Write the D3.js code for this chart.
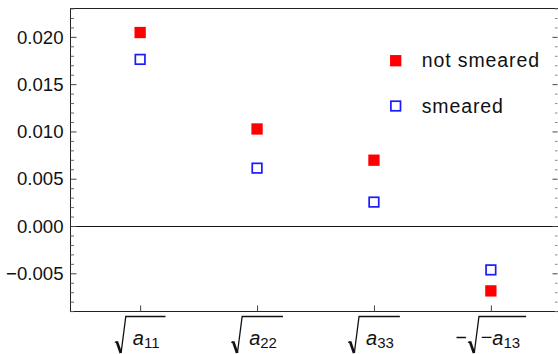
<!DOCTYPE html>
<html lang="en">
<head>
<meta charset="UTF-8">
<script src="https://d3js.org/d3.v7.min.js"></script>
<title>smeared vs not smeared</title>
<style>
  body { margin: 0; background: #fff; }
  text { font-family: "Liberation Sans", Arial, sans-serif; }
</style>
</head>
<body>
<svg id="chart" width="558" height="354"></svg>
<script>
// data
const categories = [1, 2, 3, 4];
const labelSubs = ["11", "22", "33", "13"];
const labelNeg = [false, false, false, true];
const notSmeared = [0.02046, 0.01026, 0.00696, -0.00686];
const smeared = [0.01762, 0.00612, 0.00253, -0.00464];
const seriesNames = ["not smeared", "smeared"];
const majorTicks = [-0.005, 0.000, 0.005, 0.010, 0.015, 0.020];

const svg = d3.select("svg#chart");
const frame = {left: 70.5, right: 558.5, top: 8.5, bottom: 311.5};

const x = d3.scaleLinear().domain([0.4, 4.57]).range([70, 557.5]);
const y = d3.scaleLinear().domain([-0.00904, 0.0230]).range([frame.bottom, frame.top]);

const minorTicks = d3.range(-9, 24).map(d => d / 1000).filter(d => Math.abs(Math.round(d * 200) - d * 200) > 1e-6);

// frame
svg.append("rect")
  .attr("x", frame.left).attr("y", frame.top)
  .attr("width", frame.right - frame.left).attr("height", frame.bottom - frame.top)
  .attr("fill", "none").attr("stroke", "#222").attr("stroke-width", 1);

// zero line
svg.append("line")
  .attr("x1", frame.left).attr("x2", frame.right)
  .attr("y1", Math.round(y(0)) + 0.5).attr("y2", Math.round(y(0)) + 0.5)
  .attr("stroke", "#111").attr("stroke-width", 1.2);

// left axis (ticks inside)
const leftAxis = d3.axisRight(y).tickValues(majorTicks).tickSize(6).tickFormat("");
const gl = svg.append("g").attr("transform", "translate(" + frame.left + ",0)").call(leftAxis);
gl.select(".domain").remove();
gl.selectAll(".tick line").attr("stroke", "#444");
const leftMinor = d3.axisRight(y).tickValues(minorTicks).tickSize(3.5).tickFormat("");
const glm = svg.append("g").attr("transform", "translate(" + frame.left + ",0)").call(leftMinor);
glm.select(".domain").remove();
glm.selectAll(".tick line").attr("stroke", "#666");

// tick labels
svg.append("g").selectAll("text").data(majorTicks).join("text")
  .attr("x", 63.5).attr("y", d => y(d))
  .attr("dy", "0.36em")
  .attr("text-anchor", "end")
  .attr("font-size", 18.6)
  .attr("fill", "#111")
  .text(d => d3.format(".3f")(d));

// right axis (ticks inside)
const rightAxis = d3.axisLeft(y).tickValues(majorTicks).tickSize(5).tickFormat("");
const gr = svg.append("g").attr("transform", "translate(" + (frame.right - 1) + ",0)").call(rightAxis);
gr.select(".domain").remove();
gr.selectAll(".tick line").attr("stroke", "#444");
const rightMinor = d3.axisLeft(y).tickValues(minorTicks).tickSize(2.5).tickFormat("");
const grm = svg.append("g").attr("transform", "translate(" + (frame.right - 1) + ",0)").call(rightMinor);
grm.select(".domain").remove();
grm.selectAll(".tick line").attr("stroke", "#888");

// bottom ticks
const bottomAxis = d3.axisTop(x).tickValues(categories).tickSize(6).tickFormat("");
const gb = svg.append("g").attr("transform", "translate(0," + frame.bottom + ")").call(bottomAxis);
gb.select(".domain").remove();
gb.selectAll(".tick line").attr("stroke", "#444");

// category labels: sqrt(a_ij), with radical sign
categories.forEach((c, i) => {
  const g = svg.append("g");
  const base = 345;
  let cx = 0;
  if (labelNeg[i]) {
    const m = g.append("text").attr("x", cx).attr("y", base - 1).attr("font-size", 19.5).attr("fill", "#111").text("\u2212");
    cx += m.node().getComputedTextLength() + 1;
  }
  const rx = cx;
  const topY = 316.5;
  const inner = g.append("text").attr("y", base).attr("font-size", 20).attr("fill", "#111");
  if (labelNeg[i]) inner.append("tspan").attr("dy", -1).text("\u2212");
  inner.append("tspan").attr("font-style", "italic").attr("dy", labelNeg[i] ? 1 : 0).text("a");
  inner.append("tspan").attr("font-size", 15).attr("dy", 3).text(labelSubs[i]);
  const innerX = rx + (labelNeg[i] ? 12.7 : 18);
  inner.attr("x", innerX);
  const w = inner.node().getComputedTextLength();
  const endX = innerX + w + 6;
  // radical
  g.append("path")
    .attr("d", "M" + rx + "," + (base - 2.5) + "L" + (rx + 2) + "," + (base - 3.5))
    .attr("stroke", "#111").attr("stroke-width", 1.2).attr("fill", "none");
  g.append("path")
    .attr("d", "M" + (rx + 2) + "," + (base - 3.5) + "L" + (rx + 6) + "," + (base + 8))
    .attr("stroke", "#111").attr("stroke-width", 2.6).attr("fill", "none");
  g.append("path")
    .attr("d", "M" + (rx + 6.3) + "," + (base + 8) + "L" + (rx + 11) + "," + topY + "L" + endX + "," + topY)
    .attr("stroke", "#111").attr("stroke-width", 1.3).attr("fill", "none");
  const total = endX;
  g.attr("transform", "translate(" + (x(c) - total / 2) + ",0)");
});

// markers
const size = 11.3;
svg.append("g").selectAll("rect").data(categories).join("rect")
  .attr("x", (d, i) => x(d) - size / 2)
  .attr("y", (d, i) => y(notSmeared[i]) - size / 2)
  .attr("width", size).attr("height", size)
  .attr("fill", "#ff0000");

const sw = 1.7;
svg.append("g").selectAll("rect").data(categories).join("rect")
  .attr("x", (d, i) => x(d) - size / 2 + sw / 2)
  .attr("y", (d, i) => y(smeared[i]) - size / 2 + sw / 2)
  .attr("width", size - sw).attr("height", size - sw)
  .attr("fill", "none")
  .attr("stroke", "#1a1aff").attr("stroke-width", sw);

// legend
const legend = svg.append("g");
const legY = [60.7, 106];
legend.append("rect")
  .attr("x", 395.7 - size / 2).attr("y", legY[0] - size / 2)
  .attr("width", size).attr("height", size).attr("fill", "#ff0000");
legend.append("rect")
  .attr("x", 395.7 - size / 2 + sw / 2).attr("y", legY[1] - size / 2 + sw / 2)
  .attr("width", size - sw).attr("height", size - sw)
  .attr("fill", "none").attr("stroke", "#1a1aff").attr("stroke-width", sw);
legend.selectAll("text").data(seriesNames).join("text")
  .attr("x", 421.7)
  .attr("y", (d, i) => [67.3, 113][i])
  .attr("font-size", 19.5)
  .attr("letter-spacing", 0.9)
  .attr("fill", "#111")
  .text(d => d);
</script>
</body>
</html>
